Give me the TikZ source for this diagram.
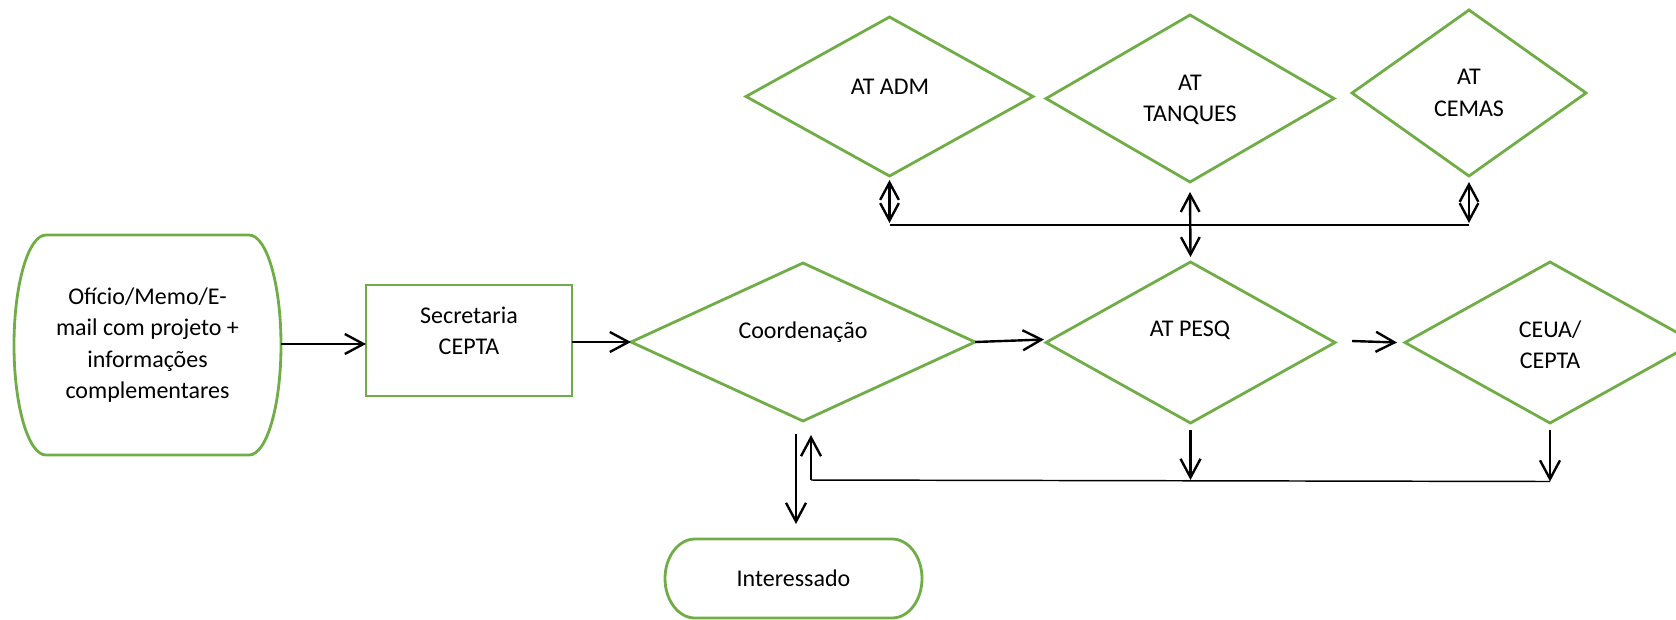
\documentclass[tikz,border=0pt]{standalone}
\usepackage{fontspec}
\setmainfont{Carlito}
\usetikzlibrary{shapes.geometric,arrows.meta,calc}
\definecolor{grn}{HTML}{70AD47}
\begin{document}
\begin{tikzpicture}[x=0.75pt,y=-0.75pt,
  font=\fontsize{18}{23.5}\selectfont,
  gl/.style={draw=grn,line width=2.1pt},
  dia/.style={gl,diamond,inner sep=0pt,outer sep=0pt},
  lbl/.style={align=center,inner sep=0pt,outer sep=0pt},
  arr/.style={line width=1.8pt,-{Straight Barb[length=14pt,width=15pt]}},
  darr/.style={line width=1.8pt,{Straight Barb[length=13pt,width=14pt]}-{Straight Barb[length=13pt,width=14pt]}},
  hl/.style={line width=1.1pt}]
\useasboundingbox (0,0) rectangle (1676,619);

% start oval
\node[lbl,minimum width=200.25pt,minimum height=165pt] (ov) at (147.5,345)
  {Ofício/Memo/E-\\mail com projeto +\\informações\\complementares};
\draw[gl] ($(ov.north west)+(32,0)$) -- ($(ov.north east)+(-32,0)$)
  arc[start angle=90,end angle=-90,x radius=24pt,y radius=82.5pt]
  -- ($(ov.south west)+(32,0)$)
  arc[start angle=270,end angle=90,x radius=24pt,y radius=82.5pt] -- cycle;

% secretaria
\node[gl,rectangle,minimum width=154.5pt,minimum height=83.25pt,inner sep=0pt,outer sep=0pt] (sec) at (469,340.5) {};
\node[lbl] (sect) at (469,331) {Secretaria\\CEPTA};

% diamonds
\node[dia,minimum width=258pt,minimum height=118.5pt] (coord) at (803,342) {};
\node[lbl] (coordt) at (803,332) {Coordenação};
\node[dia,minimum width=216.75pt,minimum height=120.75pt] (pesq) at (1190.5,342.5) {};
\node[lbl] (pesqt) at (1190,330) {AT PESQ};
\node[dia,minimum width=217.5pt,minimum height=120.75pt] (ceua) at (1550,342.5) {};
\node[lbl] (ceuat) at (1550,345) {CEUA/\\CEPTA};
\node[dia,minimum width=215.25pt,minimum height=119.25pt] (adm) at (889.5,96.5) {};
\node[lbl] (admt) at (890,87) {AT ADM};
\node[dia,minimum width=216pt,minimum height=125.25pt] (tanq) at (1190,98.5) {};
\node[lbl] (tanqt) at (1190,100) {AT\\TANQUES};
\node[dia,minimum width=175.5pt,minimum height=124.5pt] (cemas) at (1469,93) {};
\node[lbl] (cemast) at (1469,93) {AT\\CEMAS};

% interessado
\node[lbl,minimum width=192.75pt,minimum height=59.25pt] (int) at (793.5,578.5) {Interessado};
\draw[gl] ($(int.north west)+(30,0)$) -- ($(int.north east)+(-30,0)$)
  arc[start angle=90,end angle=-90,x radius=22.5pt,y radius=29.625pt]
  -- ($(int.south west)+(30,0)$)
  arc[start angle=270,end angle=90,x radius=22.5pt,y radius=29.625pt] -- cycle;

% main flow
\coordinate (a1) at ($(sec.west)+(0,3.5)$);
\draw[arr] (ov.east |- a1) -- (a1);
\draw[arr] (sec.east |- coord.west) -- (coord.west);
\draw[arr] (coord.east) -- ($(pesq.west)+(-2,-3)$);
\draw[arr] ($(pesq.east)+(17,-1.5)$) -- ($(ceua.west)+(-8,0)$);

% top connectors
\coordinate (tl) at (adm.south |- 0,225);
\coordinate (tr) at (cemas.south |- 0,225);
\draw[hl] (tl) -- (tr);
\draw[darr] ($(adm.south)+(0,4)$) -- ($(tl)+(0,-2)$);
\draw[darr] ($(cemas.south)+(0,6)$) -- ($(tr)+(0,-2)$);
\draw[darr] ($(tanq.south)+(0,10)$) -- ($(pesq.north)+(0,-5)$);

% bottom connectors
\coordinate (bl) at ($(coord.south)+(8,59)$);
\coordinate (br) at ($(ceua.south)+(0,58.5)$);
\draw[hl] (bl) -- (br);
\draw[arr] (bl) -- ($(coord.south)+(8,14)$);
\draw[arr] ($(coord.south)+(-7,13)$) -- ($(int.north)+(2.5,-15)$);
\draw[arr] ($(pesq.south)+(0,7)$) -- (pesq.south |- bl);
\draw[arr] ($(ceua.south)+(0,7)$) -- (br);
\end{tikzpicture}
\end{document}
